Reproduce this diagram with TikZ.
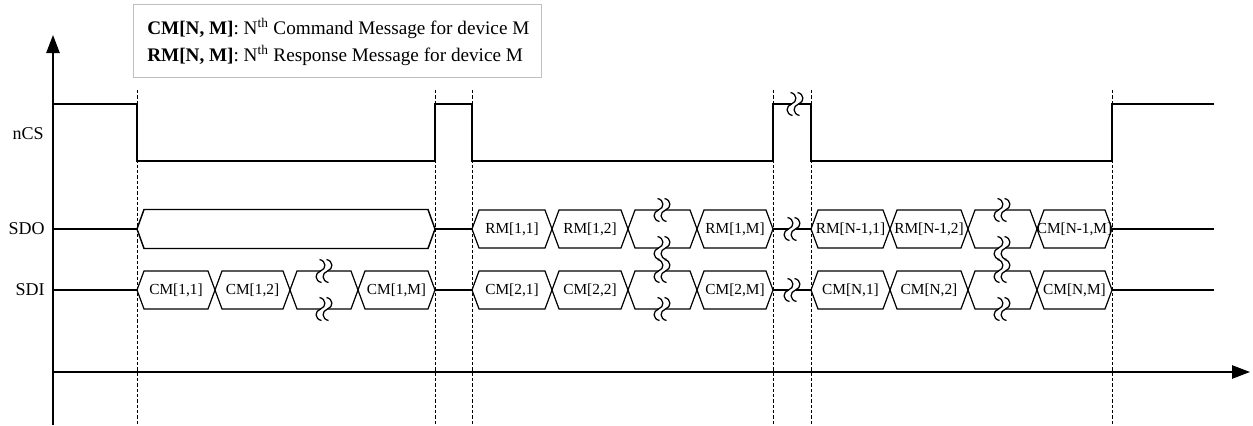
\documentclass[tikz,border=0pt]{standalone}
\usepackage{fontspec}
\setmainfont{Liberation Serif}
\usetikzlibrary{arrows.meta}
\tikzset{
  sig/.style={line width=1.1pt, line join=miter},
  bus/.style={line width=0.9pt, line join=miter},
  guide/.style={dash pattern=on 2.5pt off 1.5pt, line width=0.55pt},
  axis/.style={line width=1.1pt, -{Triangle[length=13.5pt,width=10pt]}},
  buslabel/.style={font=\fontsize{11.5}{13}\selectfont, inner sep=0pt},
  siglabel/.style={font=\fontsize{13.5}{15}\selectfont, anchor=east, inner sep=0pt},
  legendtext/.style={font=\fontsize{14.4}{17}\selectfont, anchor=west, inner sep=0pt},
  legendbox/.style={draw=black!25, line width=1.1pt, fill=white},
  brkline/.style={line width=0.95pt}
}
\newcommand\busseg[5]{%
  \draw[bus] (#1,#3) -- ({#1+7},{#3-19}) -- ({#2-7},{#3-19}) -- (#2,#3)
    -- ({#2-7},{#3+19}) -- ({#1+7},{#3+19}) -- cycle;
  \node[buslabel] (#4) at ({(#1+#2)/2},#3) {#5};}
\newcommand\brkcurve[2]{%
  \draw[brkline] ({#1-1},{#2-11.5}) .. controls ({#1+6},{#2-10}) and ({#1+6},{#2-2}) .. (#1,#2)
    .. controls ({#1-6},{#2+2}) and ({#1-6},{#2+10}) .. ({#1+1},{#2+11.5});}
\newcommand\brkmark[2]{%
  \fill[white] ({#1-3.5},{#2-2.5}) rectangle ({#1+3.5},{#2+2.5});
  \brkcurve{#1-3.5}{#2}
  \brkcurve{#1+3.5}{#2}}
\begin{document}
\begin{tikzpicture}[x=0.75pt,y=-0.75pt]
\useasboundingbox (0,0) rectangle (1253,425);
% legend
\node[legendbox, minimum width=408*0.75pt, minimum height=73*0.75pt, anchor=north west] (legend) at (133,4) {};
\node[legendtext] (leg1) at (147,28) {\textbf{CM[N, M]}: N\textsuperscript{th} Command Message for device M};
\node[legendtext] (leg2) at (147,55) {\textbf{RM[N, M]}: N\textsuperscript{th} Response Message for device M};
% guides
\foreach \gx in {137,435,472,773,811,1112}
  \draw[guide] (\gx,90) -- (\gx,425);
% axes
\coordinate (yb) at (53,425); \coordinate (yt) at (53,35);
\coordinate (xl) at (53,372); \coordinate (xr) at (1250,372);
\draw[axis] (yb) -- (yt);
\draw[axis] (xl) -- (xr);
% labels
\node[siglabel] (lncs) at (44,134) {nCS};
\node[siglabel] (lsdo) at (45,229) {SDO};
\node[siglabel] (lsdi) at (45,290) {SDI};
% nCS
\draw[sig] (53,104) -- (137,104) -- (137,161) -- (435,161) -- (435,104) -- (472,104)
  -- (472,161) -- (773,161) -- (773,104) -- (811,104) -- (811,161) -- (1112,161)
  -- (1112,104) -- (1214,104);
\brkmark{795}{104}
% SDO
\draw[sig] (53,229) -- (137,229);
\draw[sig] (435,229) -- (472,229);
\draw[sig] (773,229) -- (811,229);
\draw[sig] (1112,229) -- (1214,229);
\draw[bus, line width=1.1pt] (137,229) -- (144,209.5) -- (428,209.5) -- (435,229) -- (428,248.5) -- (144,248.5) -- cycle;
\busseg{472}{552}{229}{rm11}{RM[1,1]}
\busseg{552}{628}{229}{rm12}{RM[1,2]}
\busseg{628}{697}{229}{rmgap1}{}
\busseg{697}{773}{229}{rm1m}{RM[1,M]}
\busseg{811}{890}{229}{rmn1}{RM[N-1,1]}
\busseg{890}{968}{229}{rmn2}{RM[N-1,2]}
\busseg{968}{1037}{229}{rmgapn}{}
\busseg{1037}{1112}{229}{cmnm1}{CM[N-1,M]}
% SDI
\draw[sig] (53,290) -- (137,290);
\draw[sig] (435,290) -- (472,290);
\draw[sig] (773,290) -- (811,290);
\draw[sig] (1112,290) -- (1214,290);
\busseg{137}{215}{290}{cm11}{CM[1,1]}
\busseg{215}{290}{290}{cm12}{CM[1,2]}
\busseg{290}{358}{290}{cmgap1}{}
\busseg{358}{435}{290}{cm1m}{CM[1,M]}
\busseg{472}{552}{290}{cm21}{CM[2,1]}
\busseg{552}{628}{290}{cm22}{CM[2,2]}
\busseg{628}{697}{290}{cmgap2}{}
\busseg{697}{773}{290}{cm2m}{CM[2,M]}
\busseg{811}{890}{290}{cmn1}{CM[N,1]}
\busseg{890}{968}{290}{cmn2}{CM[N,2]}
\busseg{968}{1037}{290}{cmgapn}{}
\busseg{1037}{1112}{290}{cmnm}{CM[N,M]}
% breaks
\brkmark{324}{271}
\brkmark{324}{309}
\foreach \bx in {662,1002} {
  \brkmark{\bx}{210}
  \brkmark{\bx}{248}
  \brkmark{\bx}{271}
  \brkmark{\bx}{309}
}
\brkmark{792}{229}
\brkmark{792}{290}
\end{tikzpicture}
\end{document}
